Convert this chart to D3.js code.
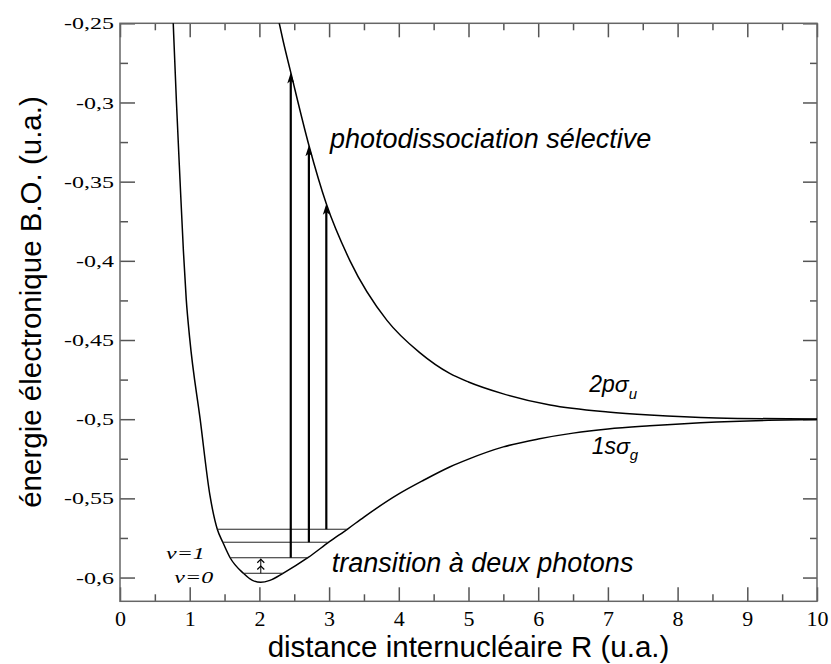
<!DOCTYPE html>
<html lang="fr">
<head>
<meta charset="UTF-8">
<title>H2+ courbes de potentiel</title>
<script src="https://d3js.org/d3.v7.min.js"></script>
<style>
    body { margin: 0; background: #fff; }
    svg { display: block; }
    .axis .tick line { stroke: #555; stroke-width: 1.5; }
</style>
</head>
<body>
<script>
const width = 831
const height = 664
const margin = {top: 23.3, right: 14, bottom: 62.7, left: 120}
const SERIF = '"Liberation Serif", Tinos, "Times New Roman", "DejaVu Serif", serif'
const SANS = '"Liberation Sans", Arial, Helvetica, sans-serif'

// courbe 1s sigma g : R (u.a.) et energie (u.a.)
const sgR = [0.74, 0.77, 0.81, 0.86, 0.91, 0.95, 1.0, 1.15, 1.29, 1.396, 1.475, 1.58, 1.77, 1.9, 2.02, 2.15, 2.35, 2.70, 3.00, 3.27, 3.50, 4.0, 4.35, 4.73, 5.0, 5.5, 6.0, 6.5, 7.0, 7.6, 8.56, 9.3, 10]
const sgE = [-0.222, -0.257, -0.300, -0.348, -0.394, -0.424, -0.449, -0.500, -0.548, -0.5695, -0.5777, -0.5875, -0.5973, -0.6018, -0.6030, -0.6018, -0.5970, -0.5873, -0.5775, -0.5692, -0.5618, -0.5472, -0.5387, -0.5302, -0.5252, -0.5175, -0.5125, -0.5088, -0.5062, -0.5042, -0.5018, -0.5007, -0.5002]

// courbe 2p sigma u
const suR = [2.26, 2.34, 2.45, 2.71, 2.96, 3.3, 3.83, 4.3, 4.73, 5.0, 5.5, 6.17, 7.0, 7.6, 8.56, 10]
const suE = [-0.245, -0.261, -0.281, -0.327, -0.364, -0.400, -0.4376, -0.458, -0.4711, -0.4765, -0.4840, -0.4911, -0.4955, -0.4974, -0.4992, -0.4999]

// niveaux de vibration v = 0..3
const levelE = [-0.5973, -0.5875, -0.5777, -0.5695]
const levelRmin = [1.77, 1.58, 1.475, 1.396]
const levelRmax = [2.35, 2.70, 2.98, 3.26]

// fleches de photodissociation
const arrowR = [2.45, 2.71, 2.96]
const arrowLevel = [1, 2, 3]
const arrowTop = [-0.281, -0.327, -0.364]

// transition a deux photons v=0 -> v=1
const twoPhotonR = 2.02

const xTicks = [0, 1, 2, 3, 4, 5, 6, 7, 8, 9, 10]
const xMinor = [0.5, 1.5, 2.5, 3.5, 4.5, 5.5, 6.5, 7.5, 8.5, 9.5]
const yTicks = [-0.25, -0.3, -0.35, -0.4, -0.45, -0.5, -0.55, -0.6]
const yTickLabels = ["-0,25", "-0,3", "-0,35", "-0,4", "-0,45", "-0,5", "-0,55", "-0,6"]
const yMinor = [-0.275, -0.325, -0.375, -0.425, -0.475, -0.525, -0.575]

const W = width - margin.left - margin.right
const H = height - margin.top - margin.bottom

const x = d3.scaleLinear().domain([0, 10]).range([0, W])
const y = d3.scaleLinear().domain([-0.615, -0.25]).range([H, 0])

const svg = d3.select("body").append("svg")
    .attr("width", width).attr("height", height)

const g = svg.append("g").attr("transform", `translate(${margin.left},${margin.top})`)

g.append("clipPath").attr("id", "clip")
    .append("rect").attr("width", W).attr("height", H)

// axes : petites et grandes graduations vers l'interieur
function addAxis(axis, transform) {
    const a = g.append("g").attr("class", "axis").attr("transform", transform).call(axis)
    a.select(".domain").remove()
    a.attr("font-family", null).attr("font-size", null)
    return a
}
addAxis(d3.axisBottom(x).tickValues(xMinor).tickSize(-7).tickFormat(""), `translate(0,${H})`)
addAxis(d3.axisBottom(x).tickValues(xTicks).tickSize(-14).tickPadding(9.5).tickFormat(d => d), `translate(0,${H})`)
    .selectAll("text").style("font-family", SERIF).style("font-size", "22px").attr("fill", "#000")
addAxis(d3.axisTop(x).tickValues(xMinor).tickSize(-7).tickFormat(""), "translate(0,0)")
addAxis(d3.axisTop(x).tickValues(xTicks).tickSize(-14).tickFormat(""), "translate(0,0)")

addAxis(d3.axisLeft(y).tickValues(yMinor).tickSize(-8).tickFormat(""), "translate(0,0)")
addAxis(d3.axisLeft(y).tickValues(yTicks).tickSize(-15).tickPadding(6)
        .tickFormat((d, i) => yTickLabels[i]), "translate(0,0)")
    .selectAll("text").style("font-family", SERIF).style("font-size", "24px")
    .attr("fill", "#000").attr("transform", "scale(1,0.72)")
addAxis(d3.axisRight(y).tickValues(yMinor).tickSize(-7).tickFormat(""), `translate(${W},0)`)
addAxis(d3.axisRight(y).tickValues(yTicks).tickSize(-14).tickFormat(""), `translate(${W},0)`)

g.append("rect").attr("width", W).attr("height", H)
    .attr("fill", "none").attr("stroke", "#666").attr("stroke-width", 1.5)

// courbes
const line = d3.line().x(d => x(d[0])).y(d => y(d[1])).curve(d3.curveMonotoneX)
const plot = g.append("g").attr("clip-path", "url(#clip)")

plot.append("path").datum(d3.zip(sgR, sgE))
    .attr("d", line).attr("fill", "none").attr("stroke", "#000").attr("stroke-width", 1.5)
plot.append("path").datum(d3.zip(suR, suE))
    .attr("d", line).attr("fill", "none").attr("stroke", "#000").attr("stroke-width", 1.5)

// niveaux de vibration
plot.selectAll(".level").data(levelE).enter().append("line")
    .attr("class", "level")
    .attr("x1", (d, i) => x(levelRmin[i])).attr("x2", (d, i) => x(levelRmax[i]))
    .attr("y1", d => y(d)).attr("y2", d => y(d))
    .attr("stroke", "#222").attr("stroke-width", 1)

// fleches verticales
function head(px, py, w, h) {
    return `M${px},${py}L${px - w / 2},${py + h}L${px},${py + h * 0.75}L${px + w / 2},${py + h}Z`
}
const arrows = plot.selectAll(".arrow").data(arrowR).enter().append("g").attr("class", "arrow")
arrows.append("line")
    .attr("x1", d => x(d)).attr("x2", d => x(d))
    .attr("y1", (d, i) => y(levelE[arrowLevel[i]]))
    .attr("y2", (d, i) => y(arrowTop[i]) + 6)
    .attr("stroke", "#000").attr("stroke-width", 2.2)
arrows.append("path")
    .attr("d", (d, i) => head(x(d), y(arrowTop[i]), 7, 11))
    .attr("fill", "#000")

// petite double fleche v=0 -> v=1
const yv0 = y(levelE[0]), yv1 = y(levelE[1])
const xs = x(twoPhotonR)
const ym = (yv0 + yv1) / 2
plot.append("line").attr("x1", xs).attr("x2", xs).attr("y1", yv0).attr("y2", yv1 + 1)
    .attr("stroke", "#000").attr("stroke-width", 1)
plot.append("path")
    .attr("d", `M${xs - 3.5},${yv1 + 5}L${xs},${yv1 + 1.5}L${xs + 3.5},${yv1 + 5}` +
               `M${xs - 3.5},${ym + 4}L${xs},${ym + 0.5}L${xs + 3.5},${ym + 4}`)
    .attr("fill", "none").attr("stroke", "#000").attr("stroke-width", 1.2)

// textes
function sansText(txt, r, e, size) {
    return g.append("text")
        .attr("x", x(r)).attr("y", y(e))
        .style("font-family", SANS).style("font-size", size + "px").style("font-style", "italic")
        .text(txt)
}
sansText("photodissociation sélective", 3.013, -0.329, 27)
sansText("transition à deux photons", 3.037, -0.5964, 27)

const lu = sansText("", 6.733, -0.4827, 23)
lu.append("tspan").text("2pσ")
lu.append("tspan").style("font-size", "15px").attr("dy", 7).text("u")

const lg = sansText("", 6.767, -0.5221, 23)
lg.append("tspan").text("1sσ")
lg.append("tspan").style("font-size", "15px").attr("dy", 6).text("g")

function vLabel(txt, r, e) {
    g.append("text")
        .attr("transform", `translate(${x(r)},${y(e)}) scale(1,0.72)`)
        .style("font-family", SERIF).style("font-size", "24px").style("font-style", "italic")
        .text(txt)
}
vLabel("ν=1", 0.66, -0.5886)
vLabel("ν=0", 0.779, -0.6034)

// titres des axes
svg.append("text")
    .attr("x", margin.left + W / 2).attr("y", 657)
    .attr("text-anchor", "middle")
    .style("font-family", SANS).style("font-size", "29.5px")
    .text("distance internucléaire R (u.a.)")
svg.append("text")
    .attr("transform", "translate(41,302) rotate(-90)")
    .attr("text-anchor", "middle")
    .style("font-family", SANS).style("font-size", "29.5px")
    .text("énergie électronique B.O. (u.a.)")
</script>
</body>
</html>
